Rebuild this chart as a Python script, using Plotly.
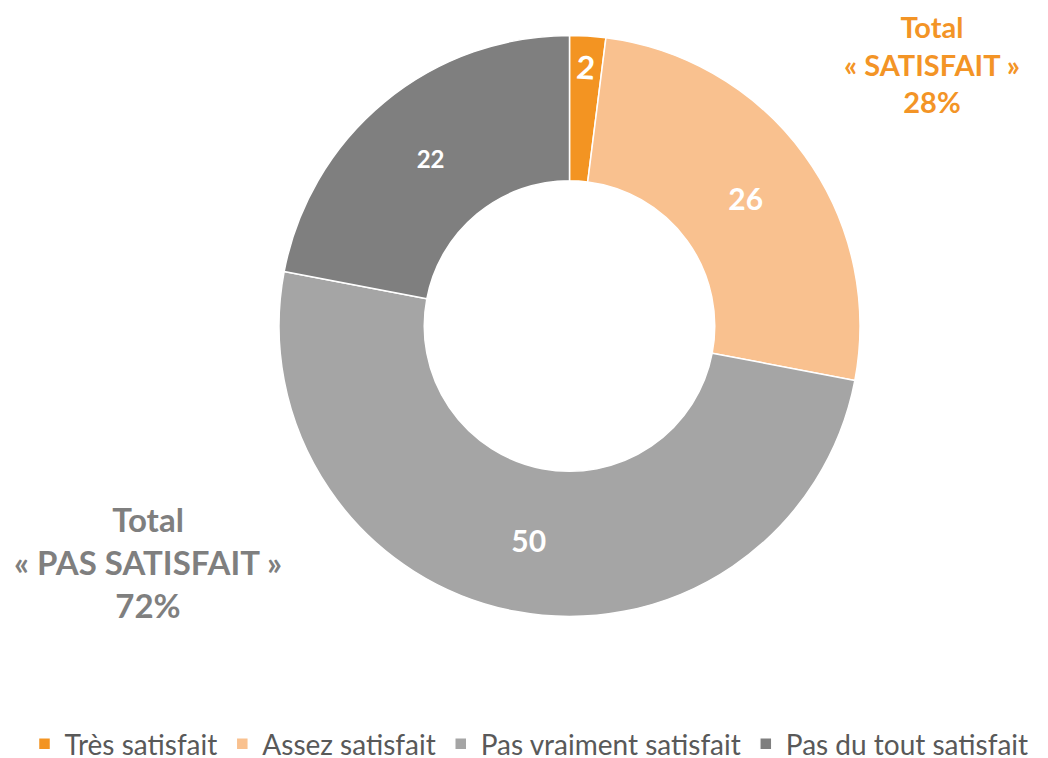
import plotly.graph_objects as go

categories = ["Très satisfait", "Assez satisfait", "Pas vraiment satisfait", "Pas du tout satisfait"]
values = [2, 26, 50, 22]
colors = ["#F39422", "#F9C18F", "#A5A5A5", "#7F7F7F"]
label_sizes = [32, 30, 30, 24]
# the thin first slice gets its label in a second, transparent layer
thin_slice = [True, False, False, False]

# page has an 8px body margin; lay out in figure coordinates
OFF = 8
W, H = 1048 - OFF, 800
cx, cy, r = 569.5 - OFF, 326 - OFF, 290.5


def px(x):
    return (x - OFF) / W


def py(y):
    return 1 - (y - OFF) / H


domain = dict(x=[(cx - r) / W, (cx + r) / W], y=[(H - cy - r) / H, (H - cy + r) / H])

fig = go.Figure()
fig.add_trace(go.Pie(
    labels=categories,
    values=values,
    sort=False,
    direction="clockwise",
    rotation=0,
    hole=0.5,
    marker=dict(colors=colors, line=dict(color="white", width=1.5)),
    text=["" if t else str(v) for v, t in zip(values, thin_slice)],
    textinfo="text",
    textposition="inside",
    insidetextorientation="horizontal",
    insidetextfont=dict(family="Lato", color="white", size=label_sizes, weight="bold"),
    hoverinfo="label+value",
    domain=domain,
))
fig.add_trace(go.Pie(
    labels=categories,
    values=values,
    sort=False,
    direction="clockwise",
    rotation=0,
    hole=0.5,
    marker=dict(colors=["rgba(0,0,0,0)"] * len(values), line=dict(width=0)),
    text=[str(v) if t else "" for v, t in zip(values, thin_slice)],
    textinfo="text",
    textposition="inside",
    insidetextorientation="tangential",
    insidetextfont=dict(family="Lato", color="white", size=label_sizes, weight="bold"),
    hoverinfo="skip",
    showlegend=False,
    domain=domain,
))

fig.add_annotation(
    x=px(932), y=py(64), xref="paper", yref="paper", xanchor="center", yanchor="middle",
    text="<b>Total<br>« SATISFAIT »<br>28%</b>", showarrow=False,
    font=dict(family="Lato", size=29, color="#F39426"), align="center",
)
fig.add_annotation(
    x=px(148), y=py(562), xref="paper", yref="paper", xanchor="center", yanchor="middle",
    text="<b>Total<br>« PAS SATISFAIT »<br>72%</b>", showarrow=False,
    font=dict(family="Lato", size=33, color="#7F7F7F"), align="center",
)

fig.update_layout(
    width=W, height=H,
    margin=dict(l=0, r=0, t=0, b=0, autoexpand=False),
    paper_bgcolor="white",
    plot_bgcolor="white",
    showlegend=True,
    legend=dict(
        orientation="h", x=px(529), xanchor="center", y=py(744), yanchor="middle",
        font=dict(family="Lato", size=28, color="#595959"),
        itemwidth=30, tracegroupgap=0,
    ),
)

fig.write_html("out.html")
